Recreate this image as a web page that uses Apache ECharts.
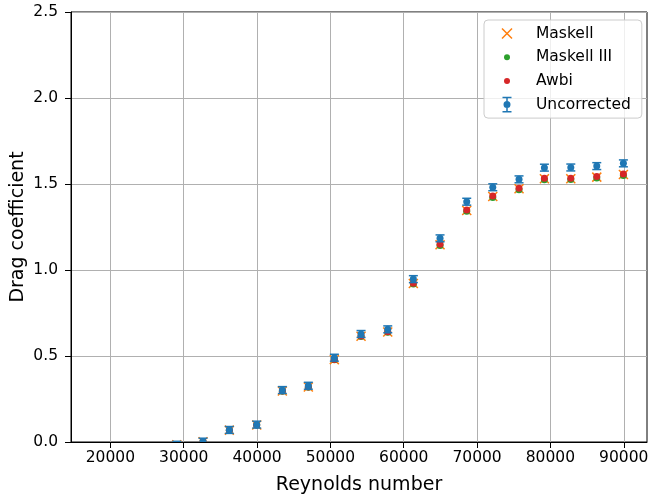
<!DOCTYPE html>
<html><head><meta charset="utf-8">
<script src="https://cdn.jsdelivr.net/npm/echarts@6/dist/echarts.min.js"></script>
<style>html,body{margin:0;padding:0;background:#fff}#c{width:650px;height:501px}</style>
</head><body><div id="c"></div>
<script>
// Data
const reynolds = [29050, 32630, 36220, 39950, 43450, 46990, 50540, 54180, 57820, 61310, 64950, 68590, 72140, 75720, 79180, 82780, 86320, 89950];
const uncorrected = [-0.016, 0.002, 0.070, 0.101, 0.302, 0.327, 0.490, 0.628, 0.655, 0.947, 1.184, 1.397, 1.481, 1.527, 1.595, 1.596, 1.604, 1.620];
const uncorrectedErr = [0.02, 0.02, 0.02, 0.02, 0.02, 0.02, 0.02, 0.02, 0.02, 0.02, 0.02, 0.02, 0.02, 0.02, 0.02, 0.02, 0.02, 0.02];
const maskell = [-0.016, 0.002, 0.069, 0.099, 0.296, 0.320, 0.479, 0.615, 0.640, 0.921, 1.147, 1.346, 1.427, 1.472, 1.530, 1.531, 1.540, 1.555];
const maskellIII = [-0.016, 0.002, 0.069, 0.099, 0.295, 0.319, 0.478, 0.613, 0.638, 0.918, 1.143, 1.342, 1.422, 1.467, 1.525, 1.526, 1.535, 1.550];
const awbi = [-0.016, 0.002, 0.069, 0.099, 0.296, 0.320, 0.480, 0.616, 0.641, 0.923, 1.149, 1.349, 1.430, 1.475, 1.533, 1.534, 1.543, 1.558];
const xTicks = [20000, 30000, 40000, 50000, 60000, 70000, 80000, 90000];
const seriesNames = ['Maskell', 'Maskell III', 'Awbi', 'Uncorrected'];
const xTitle = 'Reynolds number';
const yTitle = 'Drag coefficient';

const C_ORANGE = '#ff7f0e', C_GREEN = '#2ca02c', C_RED = '#d62728', C_BLUE = '#1f77b4';
const FONT = 'DejaVu Sans';

const pairs = arr => reynolds.map((x, i) => [x, arr[i]]);
const errData = reynolds.map((x, i) => [x, uncorrected[i], uncorrectedErr[i]]);

function renderCross(params, api) {
  const p = api.coord([api.value(0), api.value(1)]);
  const s = 4.5;
  const st = { stroke: C_ORANGE, lineWidth: 1.5, fill: null };
  return { type: 'group', children: [
    { type: 'line', shape: { x1: p[0] - s, y1: p[1] - s, x2: p[0] + s, y2: p[1] + s }, style: st },
    { type: 'line', shape: { x1: p[0] - s, y1: p[1] + s, x2: p[0] + s, y2: p[1] - s }, style: st }
  ]};
}
function makeDot(color) {
  return function (params, api) {
    const p = api.coord([api.value(0), api.value(1)]);
    return { type: 'circle', shape: { cx: p[0], cy: p[1], r: 3.5 }, style: { fill: color } };
  };
}
function renderErr(params, api) {
  const x = api.value(0), y = api.value(1), e = api.value(2);
  const p = api.coord([x, y]);
  const t = api.coord([x, y + e]);
  const b = api.coord([x, y - e]);
  const cw = 4.5;
  const st = { stroke: C_BLUE, lineWidth: 1.5, fill: null };
  return { type: 'group', children: [
    { type: 'line', shape: { x1: p[0], y1: t[1], x2: p[0], y2: b[1] }, style: st },
    { type: 'line', shape: { x1: p[0] - cw, y1: t[1], x2: p[0] + cw, y2: t[1] }, style: st },
    { type: 'line', shape: { x1: p[0] - cw, y1: b[1], x2: p[0] + cw, y2: b[1] }, style: st },
    { type: 'circle', shape: { cx: p[0], cy: p[1], r: 3.5 }, style: { fill: C_BLUE } }
  ]};
}

const ICON_X = 'path://M0 0M16 16M3.53 2.47L13.53 12.47L12.47 13.53L2.47 3.53ZM13.53 3.53L3.53 13.53L2.47 12.47L12.47 2.47Z';
const ICON_DOT = 'path://M0 0M16 16M11 8A3 3 0 1 1 5 8A3 3 0 1 1 11 8Z';
const ICON_ERR = 'path://M0 0M16 16M3.5 0.2L12.5 0.2L12.5 1.7L3.5 1.7ZM3.5 14.3L12.5 14.3L12.5 15.8L3.5 15.8ZM7.25 1L8.75 1L8.75 15L7.25 15ZM11.5 8A3.5 3.5 0 1 1 4.5 8A3.5 3.5 0 1 1 11.5 8Z';

const chart = echarts.init(document.getElementById('c'), null, { renderer: 'canvas' });
chart.setOption({
  animation: false,
  backgroundColor: '#fff',
  grid: { left: 71, top: 12, right: 3, bottom: 59, show: true, borderColor: '#000', borderWidth: 1, containLabel: false, outerBoundsMode: 'none' },
  xAxis: {
    type: 'value', min: 14630, max: 93170,
    name: xTitle, nameLocation: 'middle', nameGap: 34,
    nameTextStyle: { fontFamily: FONT, fontSize: 19, color: '#000' },
    axisLine: { show: true, onZero: false, lineStyle: { color: '#000', width: 1 } },
    axisTick: { show: true, length: 6, customValues: xTicks, lineStyle: { color: '#000', width: 1 } },
    axisLabel: { customValues: xTicks, margin: 8, fontFamily: FONT, fontSize: 15.5, color: '#000', formatter: v => String(v) },
    splitLine: { show: true, lineStyle: { color: '#b0b0b0', width: 1 } }
  },
  yAxis: {
    type: 'value', min: 0, max: 2.5, interval: 0.5,
    name: yTitle, nameLocation: 'middle', nameGap: 43, nameMoveOverlap: false,
    nameTextStyle: { fontFamily: FONT, fontSize: 19, color: '#000' },
    axisLine: { show: true, onZero: false, lineStyle: { color: '#000', width: 1 } },
    axisTick: { show: true, length: 6, lineStyle: { color: '#000', width: 1 } },
    axisLabel: { margin: 13, fontFamily: FONT, fontSize: 15.5, color: '#000', formatter: v => v.toFixed(1) },
    splitLine: { show: true, lineStyle: { color: '#b0b0b0', width: 1 } }
  },
  legend: {
    orient: 'vertical', left: 484, top: 20,
    padding: [5.5, 11, 5.5, 15],
    itemWidth: 16, itemHeight: 16, itemGap: 7.7,
    backgroundColor: 'rgba(255,255,255,0.8)', borderColor: '#cccccc', borderWidth: 1, borderRadius: 4,
    textStyle: { fontFamily: FONT, fontSize: 15.5, lineHeight: 16, color: '#000', padding: [0, 0, 0, 16] },
    data: [
      { name: seriesNames[0], icon: ICON_X, itemStyle: { color: C_ORANGE } },
      { name: seriesNames[1], icon: ICON_DOT, itemStyle: { color: C_GREEN } },
      { name: seriesNames[2], icon: ICON_DOT, itemStyle: { color: C_RED } },
      { name: seriesNames[3], icon: ICON_ERR, itemStyle: { color: C_BLUE } }
    ]
  },
  series: [
    { name: seriesNames[0], type: 'custom', clip: true, renderItem: renderCross, data: pairs(maskell), encode: { x: 0, y: 1 }, itemStyle: { color: C_ORANGE }, z: 3 },
    { name: seriesNames[1], type: 'custom', clip: true, renderItem: makeDot(C_GREEN), data: pairs(maskellIII), encode: { x: 0, y: 1 }, itemStyle: { color: C_GREEN }, z: 4 },
    { name: seriesNames[2], type: 'custom', clip: true, renderItem: makeDot(C_RED), data: pairs(awbi), encode: { x: 0, y: 1 }, itemStyle: { color: C_RED }, z: 5 },
    { name: seriesNames[3], type: 'custom', clip: true, renderItem: renderErr, data: errData, encode: { x: 0, y: [1, 2] }, itemStyle: { color: C_BLUE }, z: 6 }
  ]
});
</script>
</body></html>
